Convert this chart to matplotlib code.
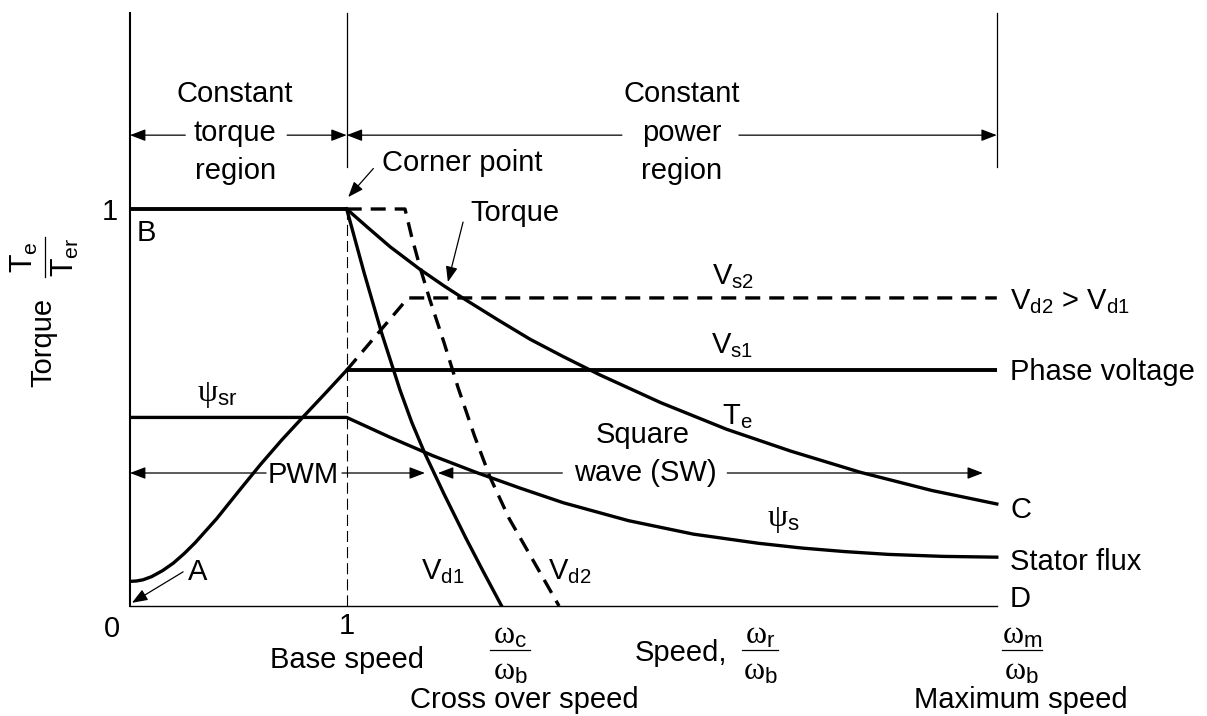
import matplotlib
matplotlib.use('Agg')
import matplotlib.pyplot as plt

plt.rcParams['font.family'] = ['Liberation Sans', 'DejaVu Sans']
plt.rcParams['mathtext.fontset'] = 'custom'
plt.rcParams['mathtext.rm'] = 'Liberation Sans'
plt.rcParams['mathtext.it'] = 'Liberation Serif'
plt.rcParams['mathtext.bf'] = 'Liberation Sans:bold'

# ---------------- data (normalised speed / torque units) ----------------
speed_max = 4.0
base_speed = 1.0
const_torque_x = [0.0, 1.0]
const_torque_y = [1.0, 1.0]

torque_x = [1.0, 1.1, 1.2, 1.338, 1.45, 1.538, 1.7, 1.846, 2.0, 2.169, 2.45, 2.754, 3.05, 3.369, 3.7, 4.0]
torque_y = [1.0, 0.952, 0.905, 0.848, 0.806, 0.775, 0.720, 0.672, 0.628, 0.582, 0.512, 0.445, 0.390, 0.337, 0.291, 0.257]

flux_x = [0.0, 1.0, 1.2, 1.4, 1.6, 1.8, 2.0, 2.3, 2.6, 2.9, 3.1, 3.3, 3.5, 3.75, 4.0]
flux_y = [0.475, 0.475, 0.425, 0.378, 0.336, 0.297, 0.260, 0.215, 0.181, 0.158, 0.146, 0.137, 0.130, 0.125, 0.123]

pwm_volt_x = [0.0, 0.03, 0.06, 0.1, 0.15, 0.2, 0.25, 0.3, 0.4, 0.5, 0.6, 0.7, 0.8, 0.9, 1.0]
pwm_volt_y = [0.062, 0.063, 0.066, 0.074, 0.089, 0.108, 0.132, 0.159, 0.220, 0.288, 0.355, 0.418, 0.477, 0.535, 0.594]

vs1_x = [1.0, 4.0]
vs1_y = [0.594, 0.594]
vs2_x = [1.0, 1.283, 4.0]
vs2_y = [0.594, 0.776, 0.776]

vd1_x = [1.0, 1.08, 1.161, 1.246, 1.30, 1.36, 1.45, 1.55, 1.63, 1.715]
vd1_y = [1.0, 0.840, 0.688, 0.544, 0.463, 0.385, 0.281, 0.171, 0.087, 0.0]

vd2_x = [1.0, 1.269, 1.30, 1.34, 1.384, 1.45, 1.514, 1.59, 1.661, 1.75, 1.86, 1.98]
vd2_y = [1.0, 1.0, 0.930, 0.850, 0.771, 0.662, 0.550, 0.428, 0.325, 0.220, 0.115, 0.0]

# ---------------- figure ----------------
W, H = 1207, 716
fig = plt.figure(figsize=(W / 100, H / 100), dpi=100)
px_x, px_y = 216.7, 397.0
ax = fig.add_axes([130 / W, 110 / H, (W - 130) / W, 593 / H])
ax.set_xlim(0, (W - 130) / px_x)
ax.set_ylim(0, 593 / px_y)

for s in ['top', 'right']:
    ax.spines[s].set_visible(False)
ax.spines['left'].set_linewidth(1.5)
ax.spines['bottom'].set_linewidth(1.0)
ax.spines['bottom'].set_bounds(0, speed_max)
ax.set_xticks([base_speed])
ax.set_xticklabels(['1'])
ax.set_yticks([1.0])
ax.set_yticklabels(['1'])

FS = 21
ax.tick_params(axis='x', length=0, labelsize=FS, pad=4)
ax.tick_params(axis='y', length=0, labelsize=FS, pad=9)
THICK = 2.4
THIN = 0.9
k = 'black'
dash = (0, (4.5, 2.7))

# curves
ax.plot(const_torque_x, const_torque_y, color=k, lw=THICK + 0.4, solid_capstyle='butt')
ax.plot(torque_x, torque_y, color=k, lw=THICK, solid_joinstyle='round')
ax.plot(flux_x, flux_y, color=k, lw=THICK, solid_joinstyle='round')
ax.plot(pwm_volt_x, pwm_volt_y, color=k, lw=THICK, solid_joinstyle='round')
ax.plot(vs1_x, vs1_y, color=k, lw=THICK + 0.4, solid_capstyle='butt')
ax.plot(vs2_x, vs2_y, color=k, lw=THICK, linestyle=dash)
ax.plot(vd1_x, vd1_y, color=k, lw=THICK, solid_joinstyle='round')
ax.plot(vd2_x, vd2_y, color=k, lw=THICK, linestyle=dash)

# region boundary lines
top = 593 / px_y
ax.plot([base_speed, base_speed], [0, 1.0], color=k, lw=0.8, linestyle=(0, (10, 4.5)))
ax.plot([base_speed, base_speed], [1.106, top], color=k, lw=0.9, clip_on=False)
ax.plot([speed_max, speed_max], [1.106, top], color=k, lw=0.9, clip_on=False)


def arrow(x0, y0, x1, y1):
    ax.annotate('', xy=(x1, y1), xytext=(x0, y0), annotation_clip=False,
                arrowprops=dict(arrowstyle='-|>,head_length=0.47,head_width=0.18',
                                mutation_scale=20, lw=THIN, color=k,
                                shrinkA=0, shrinkB=0))


def txt(x, y, s, ha='center', va='center', size=FS, **kw):
    ax.text(x, y, s, ha=ha, va=va, fontsize=size, color=k, clip_on=False, **kw)


# region headers
txt(0.485, 1.290, 'Constant')
txt(0.485, 1.192, 'torque')
txt(0.485, 1.095, 'region')
arrow(0.255, 1.186, 0.0, 1.186)
arrow(0.725, 1.186, 1.0, 1.186)

txt(2.547, 1.290, 'Constant')
txt(2.547, 1.192, 'power')
txt(2.547, 1.095, 'region')
arrow(2.27, 1.186, 1.0, 1.186)
arrow(2.81, 1.186, speed_max, 1.186)

# callouts
txt(1.163, 1.116, 'Corner point', ha='left')
arrow(1.123, 1.102, 1.007, 1.030)
txt(1.569, 0.99, 'Torque', ha='left')
arrow(1.537, 0.967, 1.467, 0.816)
txt(0.074, 0.940, 'B')
txt(0.314, 0.086, 'A')
arrow(0.245, 0.086, 0.009, 0.008)

# curve labels
GS = 23
txt(2.783, 0.829, r'$\mathrm{V_{s2}}$')
txt(2.778, 0.657, r'$\mathrm{V_{s1}}$')
txt(2.801, 0.476, r'$\mathrm{T_{e}}$')
txt(0.401, 0.531, r'$\psi_{\mathrm{sr}}$', size=GS)
txt(3.013, 0.217, r'$\psi_{\mathrm{s}}$', size=GS)
txt(1.444, 0.086, r'$\mathrm{V_{d1}}$')
txt(2.030, 0.086, r'$\mathrm{V_{d2}}$')

# PWM / square wave
txt(0.798, 0.330, 'PWM')
arrow(0.628, 0.335, 0.0, 0.335)
arrow(0.978, 0.335, 1.361, 0.335)
txt(2.367, 0.431, 'Square')
txt(2.377, 0.335, 'wave (SW)')
arrow(1.995, 0.335, 1.421, 0.335)
arrow(2.756, 0.335, 3.936, 0.335)

# right-hand labels
xr = 4.061
txt(xr, 0.766, r'$\mathrm{V_{d2}}$ > $\mathrm{V_{d1}}$', ha='left')
txt(xr, 0.589, 'Phase voltage', ha='left')
txt(xr, 0.242, 'C', ha='left')
txt(xr, 0.112, 'Stator flux', ha='left')
txt(xr, 0.018, 'D', ha='left')


# x-axis annotations
def frac(xc, num, den, half):
    txt(xc, -0.074, num, size=GS)
    txt(xc, -0.166, den, size=GS)
    ax.plot([xc - half, xc + half], [-0.111, -0.111], color=k, lw=THIN, clip_on=False)


txt(-0.083, -0.078, '0', va='baseline')
frac(1.754, r'$\omega_{\mathrm{c}}$', r'$\omega_{\mathrm{b}}$', 0.092)
frac(2.907, r'$\omega_{\mathrm{r}}$', r'$\omega_{\mathrm{b}}$', 0.085)
frac(4.115, r'$\omega_{\mathrm{m}}$', r'$\omega_{\mathrm{b}}$', 0.092)
txt(2.543, -0.139, 'Speed,', va='baseline')
txt(1.0, -0.156, 'Base speed', va='baseline')
txt(1.818, -0.257, 'Cross over speed', va='baseline')
txt(4.11, -0.257, 'Maximum speed', va='baseline')

# y-axis label
txt(-0.401, 0.665, 'Torque', rotation=90)
txt(-0.489, 0.879, r'$\mathrm{T_{e}}$', rotation=90, size=22)
txt(-0.300, 0.879, r'$\mathrm{T_{er}}$', rotation=90, size=22)
ax.plot([-0.392, -0.392], [0.829, 0.929], color=k, lw=THIN, clip_on=False)

fig.savefig('out.png', dpi=100)
